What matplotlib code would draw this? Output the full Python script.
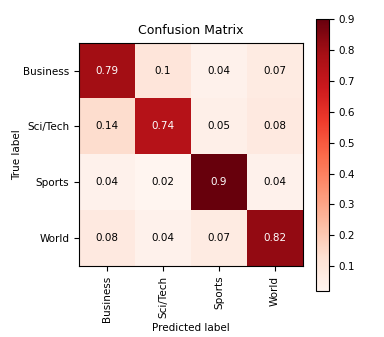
import numpy as np
import matplotlib
matplotlib.use("Agg")
import matplotlib.pyplot as plt

classes = ["Business", "Sci/Tech", "Sports", "World"]
cm = np.array([
    [0.79, 0.10, 0.04, 0.07],
    [0.14, 0.74, 0.05, 0.08],
    [0.04, 0.02, 0.90, 0.04],
    [0.08, 0.04, 0.07, 0.82],
])

plt.rcParams["font.size"] = 7.5
fig = plt.figure(figsize=(3.84, 3.37), dpi=100)
ax = fig.add_axes([0.206, 0.211, 0.583, 0.662])
cax = fig.add_axes([0.823, 0.1365, 0.034, 0.807])

im = ax.imshow(cm, interpolation="nearest", cmap=plt.cm.Reds, aspect="auto")
ax.set_title("Confusion Matrix", fontsize=9)
cb = fig.colorbar(im, cax=cax)
cb.set_ticks([0.1, 0.2, 0.3, 0.4, 0.5, 0.6, 0.7, 0.8, 0.9])

ticks = np.arange(len(classes))
ax.set_xticks(ticks)
ax.set_xticklabels(classes, rotation=90)
ax.set_yticks(ticks)
ax.set_yticklabels(classes)

thresh = cm.max() / 2.
for i in range(cm.shape[0]):
    for j in range(cm.shape[1]):
        ax.text(j, i, "%g" % cm[i, j], ha="center", va="center",
                color="white" if cm[i, j] > thresh else "black")

ax.set_ylabel("True label", labelpad=1)
ax.set_xlabel("Predicted label", labelpad=1)
fig.savefig("out.png", dpi=100)
